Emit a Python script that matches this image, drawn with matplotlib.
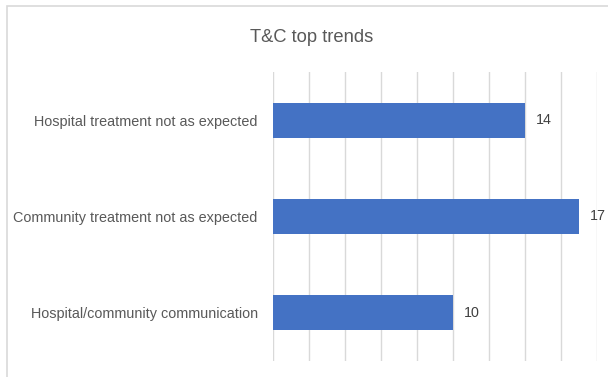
import matplotlib.pyplot as plt
from matplotlib.patches import Rectangle

# chart data (top to bottom as shown)
categories = ["Hospital treatment not as expected",
              "Community treatment not as expected",
              "Hospital/community communication"]
counts = [14, 17, 10]
title = "T&C top trends"

bar_color = "#4472C4"
text_color = "#595959"

plt.rcParams['font.family'] = ['Liberation Sans', 'DejaVu Sans']

W, H = 608, 377
fig = plt.figure(figsize=(W / 100, H / 100), dpi=100)

# light chart frame, cut at the right and bottom like the screenshot
fig.patches.append(Rectangle((7 / W, -0.1), 1.2, 1 - 6 / H + 0.1,
                             transform=fig.transFigure, fill=False,
                             edgecolor="#d9d9d9", linewidth=1.2))

ax = fig.add_axes([273 / W, 1 - 361 / H, (597 - 273) / W, (361 - 72) / H])

ypos = list(range(len(categories)))[::-1]
ax.barh(ypos, counts, height=0.36, color=bar_color, zorder=3)
for y, v in zip(ypos, counts):
    ax.text(v + 0.6, y, str(v), va="center", ha="left",
            fontsize=10.3, color="#404040")

ax.set_xlim(0, 18)
ax.set_ylim(-0.5, 2.5)
ax.set_xticks(range(0, 19, 2))
ax.xaxis.grid(True, color="#d9d9d9", linewidth=1, zorder=0)
ax.tick_params(axis="x", length=0, labelbottom=False)
ax.set_yticks(ypos)
ax.set_yticklabels(categories, fontsize=10.4, color=text_color)
ax.tick_params(axis="y", length=0, pad=11)
for s in ax.spines.values():
    s.set_visible(False)

fig.text(312 / W, 1 - 37 / H, title, ha="center", va="center",
         fontsize=13.2, color=text_color)

fig.savefig("out.png", dpi=100)
